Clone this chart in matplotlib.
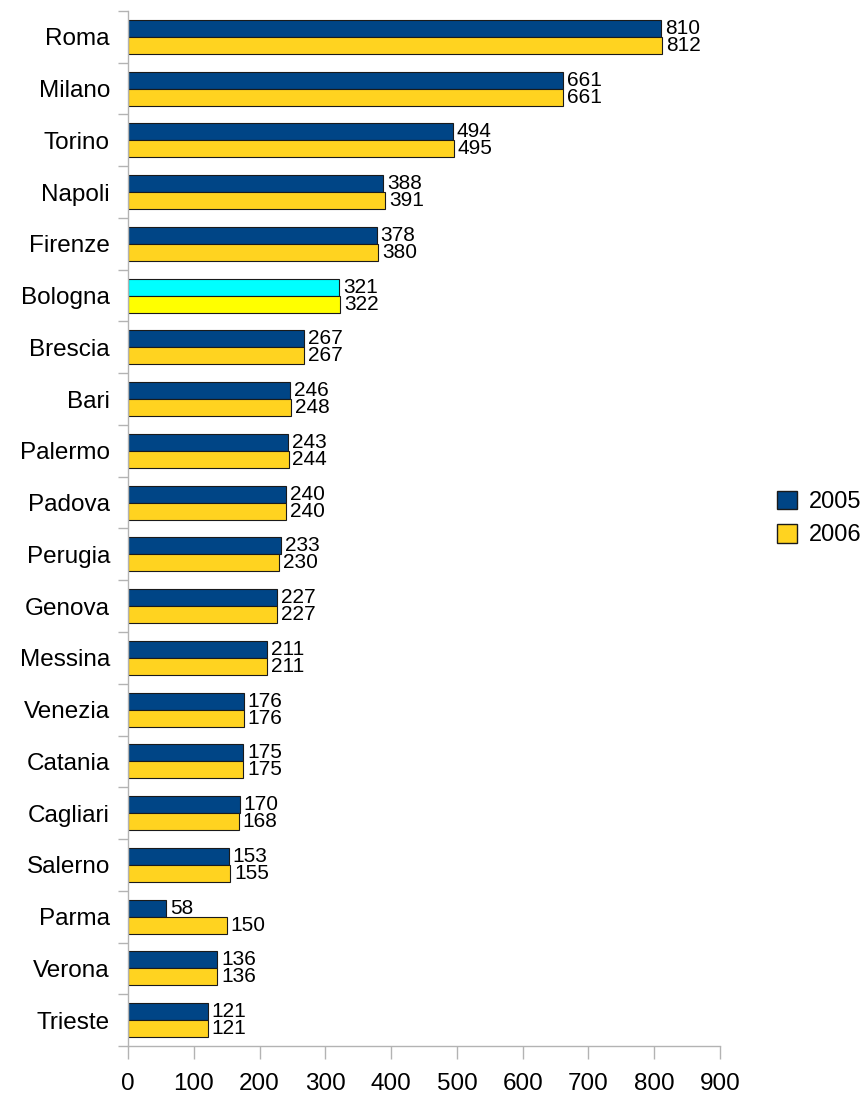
import matplotlib
matplotlib.use("Agg")
import matplotlib.pyplot as plt
from matplotlib.patches import Patch

plt.rcParams['font.family'] = ['Liberation Sans', 'DejaVu Sans']

cities = ["Roma", "Milano", "Torino", "Napoli", "Firenze", "Bologna", "Brescia",
          "Bari", "Palermo", "Padova", "Perugia", "Genova", "Messina", "Venezia",
          "Catania", "Cagliari", "Salerno", "Parma", "Verona", "Trieste"]
values_2005 = [810, 661, 494, 388, 378, 321, 267, 246, 243, 240, 233, 227, 211,
               176, 175, 170, 153, 58, 136, 121]
values_2006 = [812, 661, 495, 391, 380, 322, 267, 248, 244, 240, 230, 227, 211,
               176, 175, 168, 155, 150, 136, 121]
x_ticks = [0, 100, 200, 300, 400, 500, 600, 700, 800, 900]

blue = "#004586"
yellow = "#ffd320"
highlight = {"Bologna": ("#00ffff", "#ffff00")}

fig = plt.figure(figsize=(8.68, 10.96), dpi=100)
ax = fig.add_axes([0.1475, 0.0456, 0.682, 0.9444])

n = len(cities)
h = 0.33
ys = list(range(n))
c05 = [highlight.get(c, (blue, yellow))[0] for c in cities]
c06 = [highlight.get(c, (blue, yellow))[1] for c in cities]

ax.barh([y - h / 2 for y in ys], values_2005, height=h, color=c05,
        edgecolor="#1a1a1a", linewidth=0.8)
ax.barh([y + h / 2 for y in ys], values_2006, height=h, color=c06,
        edgecolor="#1a1a1a", linewidth=0.8)

for y, v in zip(ys, values_2005):
    ax.text(v + 6, y - h / 2, str(v), va="center", ha="left", fontsize=15)
for y, v in zip(ys, values_2006):
    ax.text(v + 6, y + h / 2, str(v), va="center", ha="left", fontsize=15)

ax.set_ylim(n - 0.5, -0.5)
ax.set_xlim(0, 900)
ax.set_xticks(x_ticks)
ax.set_xticklabels([str(t) for t in x_ticks], fontsize=17.5)
ax.set_yticks(ys)
ax.set_yticklabels(cities, fontsize=17.5)
ax.tick_params(axis="y", length=0, pad=13)
ax.set_yticks([y - 0.5 for y in range(n + 1)], minor=True)
ax.tick_params(axis="y", which="minor", length=7.2, color="#b3b3b3", width=1)
ax.tick_params(axis="x", length=9.4, color="#b3b3b3", width=1, pad=10)

for s in ["top", "right"]:
    ax.spines[s].set_visible(False)
for s in ["left", "bottom"]:
    ax.spines[s].set_color("#b3b3b3")
    ax.spines[s].set_linewidth(1)

handles = [Patch(facecolor=blue, edgecolor="#1a1a1a", label="2005"),
           Patch(facecolor=yellow, edgecolor="#1a1a1a", label="2006")]
fig.legend(handles=handles, loc="center left", bbox_to_anchor=(0.895, 0.527),
           frameon=False, fontsize=17, handlelength=0.85, handleheight=0.85,
           handletextpad=0.5, labelspacing=0.45, borderpad=0, borderaxespad=0)

fig.savefig("out.png", dpi=100)
